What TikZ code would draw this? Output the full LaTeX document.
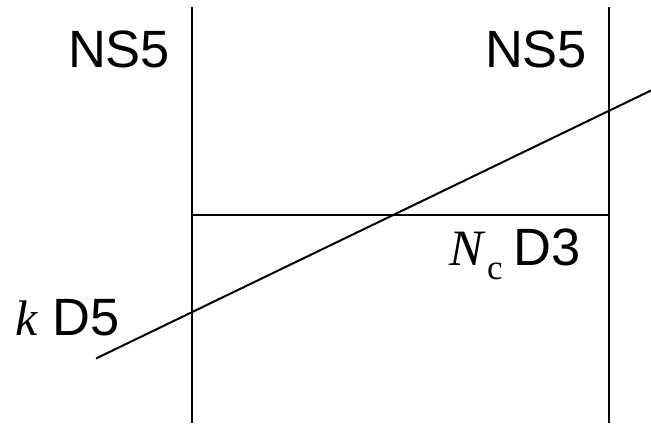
\documentclass[tikz,border=0pt]{standalone}
\usepackage{fontspec}
\setmainfont{Liberation Serif}
\newfontfamily\arial{Liberation Sans}
\tikzset{
  brane/.style={line width=2pt, black},
  lbl/.style={anchor=base west, inner sep=0pt, outer sep=0pt},
}
\newcommand{\sanslbl}[1]{{\arial\fontsize{52.5}{52.5}\selectfont #1}}
\begin{document}
\begin{tikzpicture}[x=1pt, y=-1pt]
  \useasboundingbox (0,0) rectangle (651,425);
  % NS5 branes
  \coordinate (l1) at (192,7);
  \coordinate (l2) at (192,423);
  \coordinate (r1) at (608.5,7);
  \coordinate (r2) at (608.5,423);
  \draw[brane] (l1) -- (l2);
  \draw[brane] (r1) -- (r2);
  % D3 branes stretched between the NS5s
  \coordinate (d3a) at (192,215);
  \coordinate (d3b) at (608.5,215);
  \draw[brane] (d3a) -- (d3b);
  % D5 brane
  \coordinate (d5a) at (96,358.5);
  \coordinate (d5b) at (651,90.5);
  \draw[brane] (d5a) -- (d5b);
  % labels
  \node[lbl] (ns5l) at (68,67.5) {\sanslbl{NS5}};
  \node[lbl] (ns5r) at (485,67.5) {\sanslbl{NS5}};
  \node[lbl] (d3) at (449,265) {{\fontsize{51}{51}\selectfont\itshape N}\hspace{4pt}\raisebox{-14pt}{\fontsize{35}{35}\selectfont c}\hspace{11pt}\sanslbl{D3}};
  \node[lbl] (d5) at (16,335) {{\fontsize{50}{50}\selectfont\itshape k}\hspace{14pt}\sanslbl{D5}};
\end{tikzpicture}
\end{document}
